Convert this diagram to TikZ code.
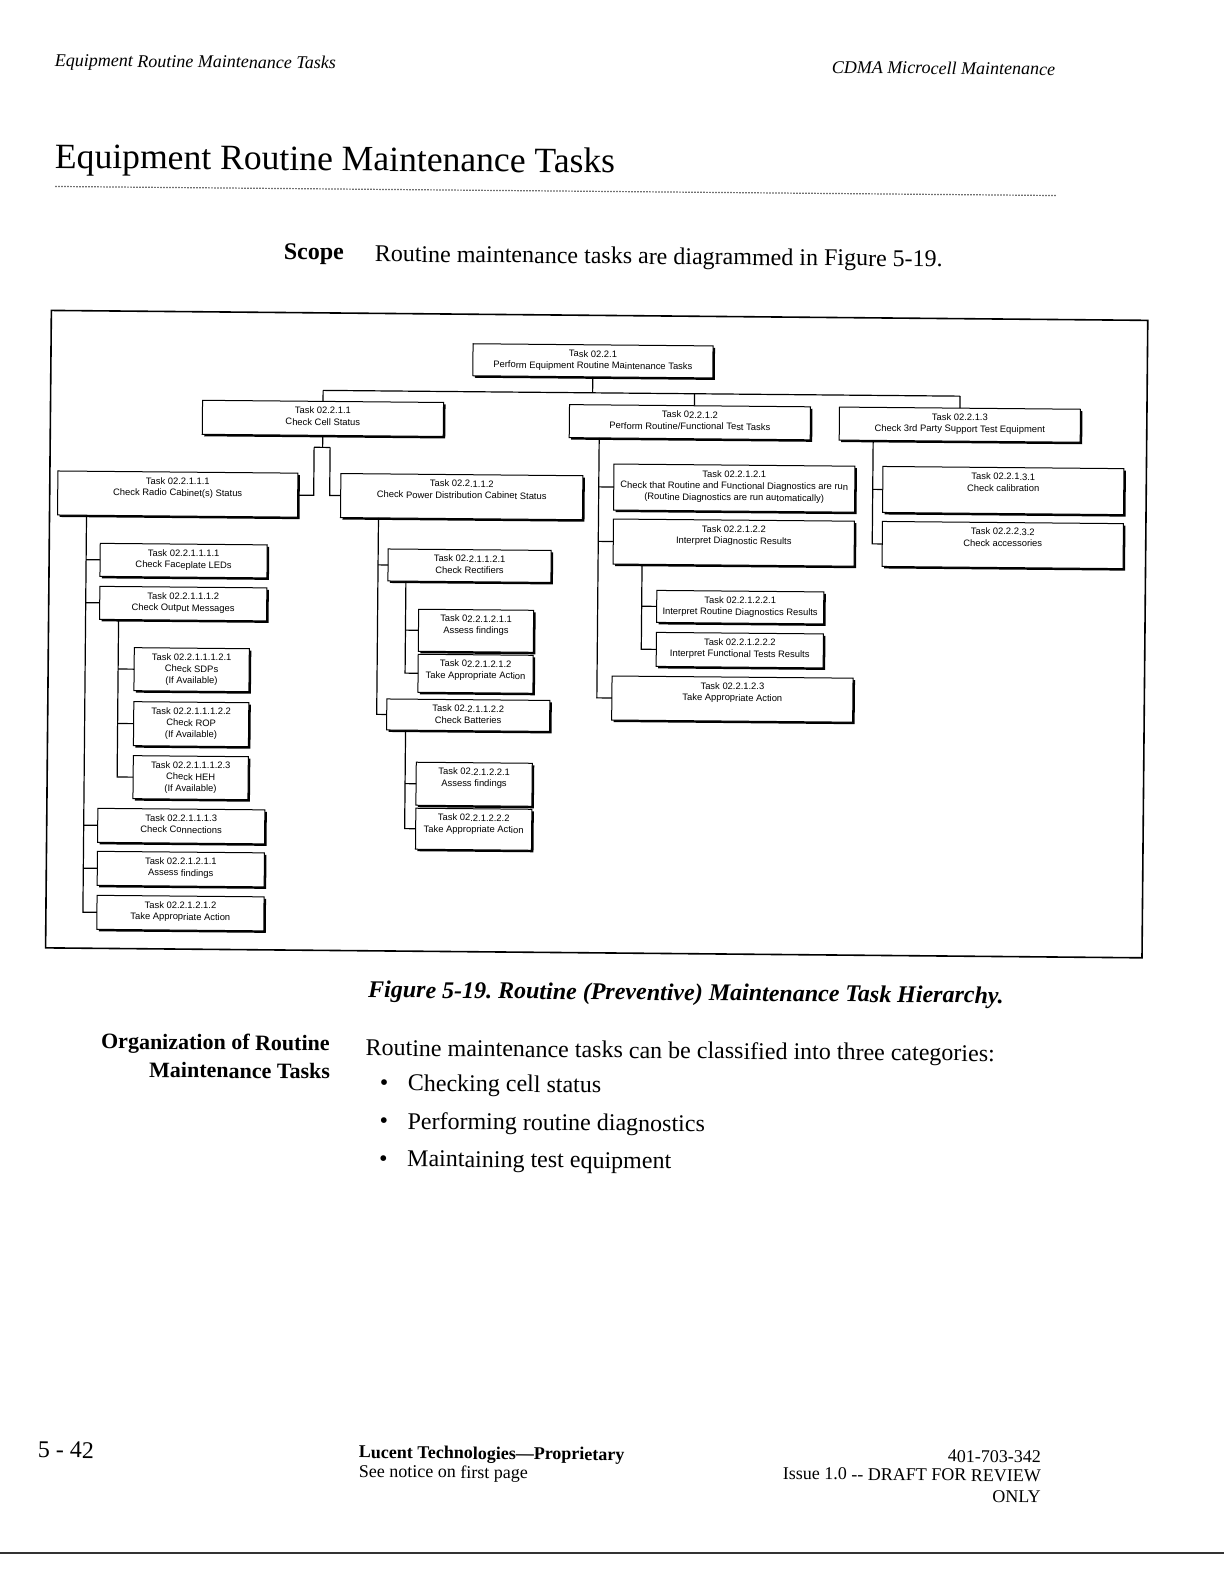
\documentclass[tikz,border=0pt]{standalone}
\usepackage{fontspec}
\setmainfont{Liberation Serif}
\newfontfamily\diagfont{Liberation Sans}
\usetikzlibrary{shadows}
\frenchspacing
\tikzset{
  box/.style={rectangle, draw=black, fill=white, line width=0.5pt, inner sep=0pt, outer sep=0pt,
    drop shadow={shadow xshift=1pt, shadow yshift=-1pt, fill=black, opacity=1}},
  boxtext/.style={inner sep=0pt, outer sep=0pt, align=center, font=\diagfont\fontsize{4.7}{5.8}\selectfont},
  conn/.style={line width=0.6pt, draw=black},
  ptext/.style={inner sep=0pt, outer sep=0pt},
  bodyfont/.style={font=\fontsize{12}{14}\selectfont},
  footfont/.style={font=\fontsize{9}{10}\selectfont},
}
\newcommand\mkbox[6]{%
  \pgfmathsetmacro\mkbw{(#4-#2)*0.5}%
  \pgfmathsetmacro\mkbh{(#5-#3)*0.5}%
  \node[box, minimum width=\mkbw pt, minimum height=\mkbh pt] (#1) at ({(#2+#4)/2},{(#3+#5)/2}) {};
  \node[boxtext, anchor=north] (#1t) at ({(#2+#4)/2},{#3+5.5}) {#6};
}
\begin{document}
\begin{tikzpicture}[x=0.5pt, y=-0.5pt]
\useasboundingbox (0,0) rectangle (1224,1584);
\fill[white] (0,0) rectangle (1224,1584);
\begin{scope}[rotate around={-0.52:(612,792)}, transform shape]
% page header
\node[ptext, anchor=west, font=\fontsize{9}{11}\selectfont\itshape] (hleft) at (48.4,67) {Equipment Routine Maintenance Tasks};
\node[ptext, anchor=east, font=\fontsize{9}{11}\selectfont\itshape] (hright) at (1048.5,65) {CDMA Microcell Maintenance};
\node[ptext, anchor=west, font=\fontsize{17.8}{20}\selectfont] (title) at (49.3,164.5) {Equipment Routine Maintenance Tasks};
\draw[line width=0.6pt, black!85, dash pattern=on 0.6pt off 0.9pt] (50,191.5) -- (1052,191.5);
\node[ptext, anchor=west, font=\fontsize{12}{14}\selectfont\bfseries] (scope) at (279,257) {Scope};
\node[ptext, anchor=west, bodyfont] (scopetext) at (370,258) {Routine maintenance tasks are diagrammed in Figure 5-19.};

% figure frame
\draw[line width=0.8pt] (47,315.5) rectangle (1143.5,953);

% boxes
\mkbox{R}{469}{345}{709}{377}{Task 02.2.1\\Perform Equipment Routine Maintenance Tasks}
\mkbox{A}{199}{404}{440}{438}{Task 02.2.1.1\\Check Cell Status}
\mkbox{B}{566}{405}{807}{438}{Task 02.2.1.2\\Perform Routine/Functional Test Tasks}
\mkbox{C}{836}{405}{1077}{438}{Task 02.2.1.3\\Check 3rd Party Support Test Equipment}

\mkbox{D}{55}{476}{295}{520}{Task 02.2.1.1.1\\Check Radio Cabinet(s) Status}
\mkbox{E}{338}{476}{580}{520}{Task 02.2.1.1.2\\Check Power Distribution Cabinet Status}

\mkbox{D1}{98}{548}{265}{581}{Task 02.2.1.1.1.1\\Check Faceplate LEDs}
\mkbox{D2}{98}{591}{265}{624}{Task 02.2.1.1.1.2\\Check Output Messages}
\mkbox{D2a}{133}{652}{248}{695}{Task 02.2.1.1.1.2.1\\Check SDPs\\(If Available)}
\mkbox{D2b}{133}{706}{248}{750}{Task 02.2.1.1.1.2.2\\Check ROP\\(If Available)}
\mkbox{D2c}{133}{760}{248}{803}{Task 02.2.1.1.1.2.3\\Check HEH\\(If Available)}
\mkbox{D3}{98}{813}{265}{847}{Task 02.2.1.1.1.3\\Check Connections}
\mkbox{D4}{98}{856}{265}{890}{Task 02.2.1.2.1.1\\Assess findings}
\mkbox{D5}{98}{900}{265}{934}{Task 02.2.1.2.1.2\\Take Appropriate Action}

\mkbox{E1}{386}{551}{549}{583}{Task 02.2.1.1.2.1\\Check Rectifiers}
\mkbox{E1a}{417}{611}{532}{653}{Task 02.2.1.2.1.1\\Assess findings}
\mkbox{E1b}{417}{656}{532}{694}{Task 02.2.1.2.1.2\\Take Appropriate Action}
\mkbox{E2}{386}{701}{549}{732}{Task 02.2.1.1.2.2\\Check Batteries}
\mkbox{E2a}{416}{764}{532}{807}{Task 02.2.1.2.2.1\\Assess findings}
\mkbox{E2b}{416}{810}{532}{851}{Task 02.2.1.2.2.2\\Take Appropriate Action}

\mkbox{B1}{611}{464}{852}{510}{Task 02.2.1.2.1\\Check that Routine and Functional Diagnostics are run\\(Routine Diagnostics are run automatically)}
\mkbox{B2}{611}{519}{852}{564}{Task 02.2.1.2.2\\Interpret Diagnostic Results}
\mkbox{B2a}{655}{590}{822}{622}{Task 02.2.1.2.2.1\\Interpret Routine Diagnostics Results}
\mkbox{B2b}{655}{632}{822}{666}{Task 02.2.1.2.2.2\\Interpret Functional Tests Results}
\mkbox{B3}{611}{676}{852}{720}{Task 02.2.1.2.3\\Take Appropriate Action}

\mkbox{C1}{880}{464}{1121}{510}{Task 02.2.1.3.1\\Check calibration}
\mkbox{C2}{880}{519}{1121}{564}{Task 02.2.2.3.2\\Check accessories}

% connectors: top level
\coordinate (lev1) at (0,393);
\coordinate (bx) at (691,0);
\draw[conn] (R.south) -- (R.south |- lev1);
\draw[conn] (A.north |- lev1) -- (C.north |- lev1);
\draw[conn] (A.north |- lev1) -- (A.north);
\draw[conn] (bx |- lev1) -- (bx |- B.north);
\draw[conn] (C.north |- lev1) -- (C.north);

% under Check Cell Status
\coordinate (piL) at (311,450);
\coordinate (piR) at (327,450);
\draw[conn] (A.south) -- (A.south |- piL);
\draw[conn] (piL) -- (piR);
\draw[conn] (piL) |- (D.east);
\draw[conn] (piR) |- (E.west);

% radio cabinet subtree
\coordinate (tD) at (84,0);
\draw[conn] (D.south -| tD) |- (D5.west);
\foreach \n in {D1,D2,D3,D4} \draw[conn] (tD |- \n.west) -- (\n.west);
\coordinate (tDb) at (117,0);
\draw[conn] (D2.south -| tDb) |- (D2c.west);
\foreach \n in {D2a,D2b} \draw[conn] (tDb |- \n.west) -- (\n.west);

% power distribution subtree
\coordinate (tE) at (376,0);
\draw[conn] (E.south -| tE) |- (E2.west);
\draw[conn] (tE |- E1.west) -- (E1.west);
\coordinate (tEa) at (404,0);
\draw[conn] (E1.south -| tEa) |- (E1b.west);
\draw[conn] (tEa |- E1a.west) -- (E1a.west);
\coordinate (tEb) at (405,0);
\draw[conn] (E2.south -| tEb) |- (E2b.west);
\draw[conn] (tEb |- E2a.west) -- (E2a.west);

% routine/functional subtree
\coordinate (tB) at (596,0);
\draw[conn] (B.south -| tB) |- (B3.west);
\foreach \n in {B1,B2} \draw[conn] (tB |- \n.west) -- (\n.west);
\coordinate (tBb) at (640,0);
\draw[conn] (B2.south -| tBb) |- (B2b.west);
\draw[conn] (tBb |- B2a.west) -- (B2a.west);

% 3rd party subtree
\coordinate (tC) at (870,0);
\draw[conn] (C.south -| tC) |- (C2.west);
\draw[conn] (tC |- C1.west) -- (C1.west);

% caption and text below
\node[ptext, anchor=west, font=\fontsize{12}{14}\selectfont\bfseries\itshape] (cap) at (370,994) {Figure 5-19. Routine (Preventive) Maintenance Task Hierarchy.};
\node[ptext, anchor=east, font=\fontsize{11}{13}\selectfont\bfseries] (orgA) at (332,1048) {Organization of Routine};
\node[ptext, anchor=east, font=\fontsize{11}{13}\selectfont\bfseries] (orgB) at (332.5,1074) {Maintenance Tasks};
\node[ptext, anchor=west, bodyfont] (orgtext) at (368,1052) {Routine maintenance tasks can be classified into three categories:};
\node[ptext, anchor=west, bodyfont] (bu1) at (382.6,1087) {•};
\node[ptext, anchor=west, bodyfont] (bt1) at (410.6,1087) {Checking cell status};
\node[ptext, anchor=west, bodyfont] (bu2) at (382.6,1125) {•};
\node[ptext, anchor=west, bodyfont] (bt2) at (410.6,1125) {Performing routine diagnostics};
\node[ptext, anchor=west, bodyfont] (bu3) at (382.6,1163) {•};
\node[ptext, anchor=west, bodyfont] (bt3) at (410.6,1163) {Maintaining test equipment};

% footer
\node[ptext, anchor=west, bodyfont] (pg) at (44,1455) {5 - 42};
\node[ptext, anchor=west, font=\fontsize{9}{10}\selectfont\bfseries] (luc) at (365,1456) {Lucent Technologies—Proprietary};
\node[ptext, anchor=west, footfont] (see) at (365,1475) {See notice on first page};
\node[ptext, anchor=east, footfont] (doc) at (1047,1453) {401-703-342};
\node[ptext, anchor=east, footfont] (iss) at (1047,1472) {Issue 1.0 -{}- DRAFT FOR REVIEW};
\node[ptext, anchor=east, footfont] (only) at (1047,1493) {ONLY};
\end{scope}
\draw[line width=0.6pt, black!80] (0,1553) -- (1224,1553);
\end{tikzpicture}
\end{document}
